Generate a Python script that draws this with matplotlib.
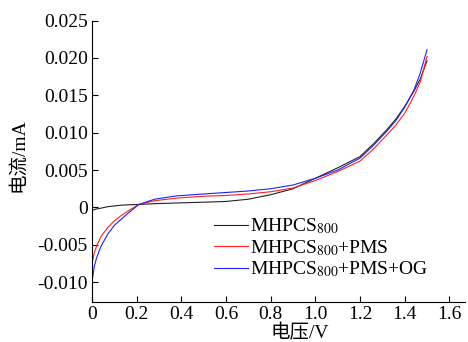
import matplotlib
matplotlib.use('Agg')
import matplotlib.pyplot as plt

plt.rcParams['font.family'] = ['Liberation Serif', 'Noto Sans CJK SC']
plt.rcParams['mathtext.fontset'] = 'stix'
plt.rcParams['axes.unicode_minus'] = False

# 电压 (V)
voltage = [0, 0.01, 0.02, 0.04, 0.07, 0.10, 0.13, 0.16, 0.21, 0.28, 0.38, 0.5, 0.6,
           0.7, 0.8, 0.9, 1.0, 1.1, 1.2, 1.26, 1.32, 1.36, 1.40, 1.44, 1.47, 1.5]
# 电流 (mA)
i_mhpcs = [-0.0004, -0.0003, -0.0002, -0.0001, 0.0001, 0.0002, 0.0003, 0.00035, 0.0004,
           0.0005, 0.0006, 0.0007, 0.0008, 0.0011, 0.0017, 0.0025, 0.0039, 0.0053, 0.0068,
           0.0085, 0.0104, 0.0118, 0.0135, 0.0155, 0.0172, 0.0196]
i_pms = [-0.0075, -0.0061, -0.0052, -0.0039, -0.0027, -0.0018, -0.0011, -0.0005, 0.0004,
         0.0009, 0.00125, 0.0015, 0.0016, 0.0018, 0.0021, 0.0026, 0.0036, 0.0048, 0.0062,
         0.0078, 0.0097, 0.0110, 0.0126, 0.0148, 0.0168, 0.0202]
i_og = [-0.0100, -0.0079, -0.0068, -0.0052, -0.0036, -0.0024, -0.0016, -0.0008, 0.0004,
        0.0011, 0.00155, 0.0018, 0.0020, 0.0022, 0.0025, 0.0030, 0.0039, 0.0050, 0.0066,
        0.0083, 0.0102, 0.0116, 0.0134, 0.0156, 0.0180, 0.0211]

labels = [r'MHPCS$_{800}$', r'MHPCS$_{800}$+PMS', r'MHPCS$_{800}$+PMS+OG']

xticks = [0, 0.2, 0.4, 0.6, 0.8, 1.0, 1.2, 1.4, 1.6]
xticklabels = ['0', '0.2', '0.4', '0.6', '0.8', '1.0', '1.2', '1.4', '1.6']
yticks = [-0.010, -0.005, 0, 0.005, 0.010, 0.015, 0.020, 0.025]
yticklabels = ['-0.010', '-0.005', '0', '0.005', '0.010', '0.015', '0.020', '0.025']

fig = plt.figure(figsize=(4.68, 3.42), dpi=100)
ax = fig.add_axes([0.1966, 0.118, 0.797, 0.822])

ax.plot(voltage, i_mhpcs, color='#222222', lw=0.8, label=labels[0])
ax.plot(voltage, i_pms, color='#ff2020', lw=0.8, label=labels[1])
ax.plot(voltage, i_og, color='#2020ff', lw=0.8, label=labels[2])

ax.set_xlim(0, 1.67)
ax.set_ylim(-0.0126, 0.025)
ax.set_xticks(xticks)
ax.set_xticklabels(xticklabels)
ax.set_yticks(yticks)
ax.set_yticklabels(yticklabels)
ax.tick_params(direction='in', length=4, width=0.8, labelsize=14, pad=3)

ax.spines['top'].set_visible(False)
ax.spines['right'].set_visible(False)
for s in ['left', 'bottom']:
    ax.spines[s].set_linewidth(0.8)

ax.set_xlabel('电压/V', fontsize=14)
ax.set_ylabel('电流/mA', fontsize=14)
ax.xaxis.set_label_coords(0.558, -0.080)
ax.yaxis.set_label_coords(-0.174, 0.522)

ax.legend(loc='upper left', bbox_to_anchor=(0.3, 0.338), frameon=False, fontsize=14,
          handlelength=1.75, handletextpad=0.1, labelspacing=0.1, borderpad=0)

fig.savefig('out.png', dpi=100)
